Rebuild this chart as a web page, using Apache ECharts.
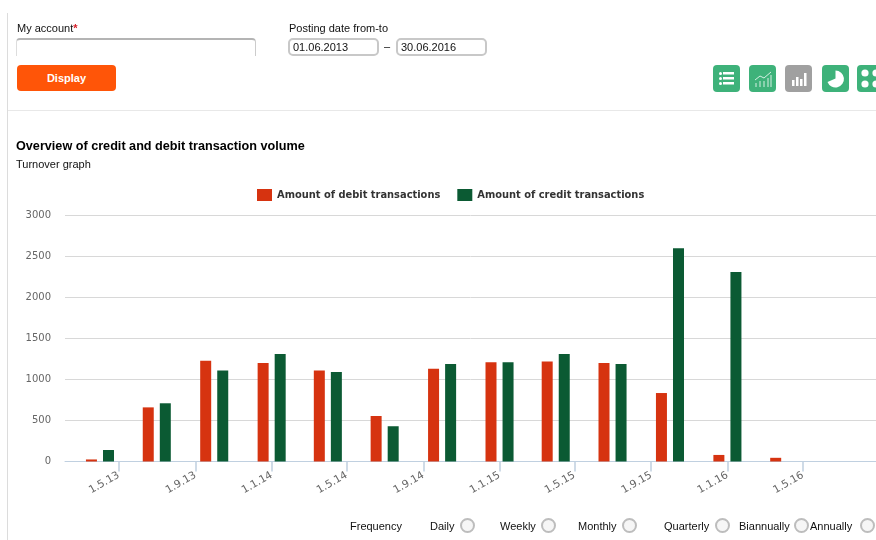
<!DOCTYPE html>
<html>
<head>
<meta charset="utf-8">
<title>Turnover graph</title>
<script src="https://cdn.jsdelivr.net/npm/echarts@6/dist/echarts.min.js"></script>
<style>
  html, body { margin: 0; padding: 0; background: #fff; overflow: hidden; }
  body { width: 876px; height: 540px; position: relative; font-family: "Liberation Sans", Arial, sans-serif; font-size: 11px; color: #111; }
  #chart { position: absolute; left: 0; top: 0; width: 876px; height: 540px; }
  .abs { position: absolute; white-space: nowrap; }
  .rule-v { left: 7px; top: 13px; width: 1px; height: 527px; background: #dcdcdc; }
  .rule-h { left: 8px; top: 110px; width: 868px; height: 1px; background: #e8e8e8; }
  .req { color: #d8202a; font-weight: bold; }
  .account { left: 16px; top: 38px; width: 240px; height: 18px; box-sizing: border-box; border-right: 1px solid #ccc; border-left: 1px solid #ddd; border-top: 2px solid #b4b4b4; border-radius: 4px 4px 0 0; }
  .date { top: 38px; height: 18px; box-sizing: border-box; border: 2px solid #c8c8c8; border-radius: 5px; padding: 0 0 0 3px; font-size: 11px; line-height: 14px; }
  .display { left: 17px; top: 65px; width: 99px; height: 26px; background: #ff5508; border-radius: 4px; color: #fff; font-weight: bold; text-align: center; line-height: 26px; }
  .btn { top: 65px; width: 27px; height: 27px; border-radius: 4px; background: #3eb27a; }
  .btn svg { display: block; }
  .radio { top: 518px; width: 11px; height: 11px; border: 2px solid #bdbdbd; border-radius: 50%; background: #f6f6f6; }
  .clip { position: absolute; left: 857px; top: 65px; width: 19px; height: 27px; overflow: hidden; }
</style>
</head>
<body>
<div id="chart"></div>
<div class="abs rule-v"></div>
<div class="abs rule-h"></div>

<div class="abs" style="left:17px;top:22px">My account<span class="req">*</span></div>
<div class="abs account"></div>
<div class="abs" style="left:289px;top:22px">Posting date from-to</div>
<div class="abs date" style="left:288px;width:91px">01.06.2013</div>
<div class="abs" style="left:384px;top:40px">–</div>
<div class="abs date" style="left:396px;width:91px">30.06.2016</div>
<div class="abs display">Display</div>

<div class="abs btn" style="left:713px"><svg width="27" height="27" fill="#fff"><rect x="6" y="7" width="3" height="3" rx="1.5"/><rect x="6" y="12" width="3" height="3" rx="1.5"/><rect x="6" y="17" width="3" height="3" rx="1.5"/><rect x="10" y="7" width="11" height="2.5"/><rect x="10" y="12" width="11" height="2.5"/><rect x="10" y="17" width="11" height="2.5"/></svg></div>
<div class="abs btn" style="left:749px"><svg width="27" height="27" fill="none" stroke="#d5f0e3"><path d="M6 15l5-4 4 2 7-6"/><path d="M7 22v-4M11 22v-6M15 22v-6M19 22v-9M22 22v-12"/></svg></div>
<div class="abs btn" style="left:785px;background:#a0a0a0"><svg width="27" height="27" fill="#fff"><rect x="7" y="15" width="2.5" height="6"/><rect x="11" y="12" width="2.5" height="9"/><rect x="15" y="14" width="2.5" height="7"/><rect x="19" y="8" width="2.5" height="13"/></svg></div>
<div class="abs btn" style="left:822px"><svg width="27" height="27" fill="#fff"><path d="M13.5 5.5a8.5 8.5 0 1 1-8 11.5l8-3.5z"/></svg></div>
<div class="clip"><div class="abs btn" style="left:0;top:0"><svg width="27" height="27" fill="#fff"><circle cx="8" cy="8" r="3.6"/><circle cx="19" cy="8" r="3.6"/><circle cx="8" cy="19" r="3.6"/><circle cx="19" cy="19" r="3.6"/></svg></div></div>

<div class="abs" style="left:350px;top:520px">Frequency</div>
<div class="abs" style="left:430px;top:520px">Daily</div><div class="abs radio" style="left:460px"></div>
<div class="abs" style="left:500px;top:520px">Weekly</div><div class="abs radio" style="left:541px"></div>
<div class="abs" style="left:578px;top:520px">Monthly</div><div class="abs radio" style="left:622px"></div>
<div class="abs" style="left:664px;top:520px">Quarterly</div><div class="abs radio" style="left:715px"></div>
<div class="abs" style="left:739px;top:520px">Biannually</div><div class="abs radio" style="left:794px"></div>
<div class="abs" style="left:810px;top:520px">Annually</div><div class="abs radio" style="left:860px"></div>

<script>
  var periods = ['2013-04-01','2013-07-01','2013-10-01','2014-01-01','2014-04-01','2014-07-01','2014-10-01','2015-01-01','2015-04-01','2015-07-01','2015-10-01','2016-01-01','2016-04-01'];
  var debit = [25, 660, 1230, 1200, 1110, 555, 1130, 1210, 1220, 1200, 835, 80, 45];
  var credit = [140, 710, 1110, 1310, 1090, 430, 1190, 1210, 1310, 1190, 2600, 2310, null];
  var tickDates = ['2013-05-01','2013-09-01','2014-01-01','2014-05-01','2014-09-01','2015-01-01','2015-05-01','2015-09-01','2016-01-01','2016-05-01'];

  function pairs(values){
    return periods.map(function(d, i){ return [Date.parse(d), values[i]]; });
  }
  //日期标签 1.5.13
  function shortDate(ms){
    var d = new Date(ms);
    return d.getUTCDate() + '.' + (d.getUTCMonth() + 1) + '.' + String(d.getUTCFullYear()).slice(2);
  }
  var tickValues = tickDates.map(function(d){ return Date.parse(d); });

  var myChart = echarts.init(document.getElementById('chart'));
  var option = {
    animation: false,
    textStyle: {fontFamily: 'DejaVu Sans'},
    title: {
      left: 16,
      top: 140,
      padding: 0,
      itemGap: 6,
      text: 'Overview of credit and debit transaction volume',
      textStyle: {fontFamily: 'Liberation Sans', fontSize: 12.65, fontWeight: 'bold', color: '#000'},
      subtext: 'Turnover graph',
      subtextStyle: {fontFamily: 'Liberation Sans', fontSize: 11, color: '#111'}
    },
    legend: {
      top: 184,
      left: 252,
      itemWidth: 15,
      itemHeight: 12,
      itemGap: 17,
      icon: 'rect',
      textStyle: {fontFamily: 'DejaVu Sans', fontSize: 9.9, fontWeight: 'bold', color: '#333'},
      data: ['Amount of debit transactions', 'Amount of credit transactions']
    },
    grid: {left: 65, right: 0, top: 215.5, height: 246},
    xAxis: {
      type: 'value',
      min: Date.parse('2013-02-04'),
      max: Date.parse('2016-08-26'),
      splitLine: {show: false},
      axisLine: {lineStyle: {color: '#c0d0e0'}},
      axisTick: {show: true, customValues: tickValues, length: 10, lineStyle: {color: '#c0d0e0', width: 1.5}},
      axisLabel: {
        customValues: tickValues,
        rotate: 30,
        margin: 13,
        fontSize: 10.5,
        color: '#666',
        formatter: function(v){ return shortDate(v); }
      }
    },
    yAxis: {
      type: 'value',
      min: 0,
      max: 3000,
      interval: 500,
      axisLine: {show: false},
      axisTick: {show: false},
      splitLine: {lineStyle: {color: '#d8d8d8'}},
      axisLabel: {margin: 14, fontSize: 10, color: '#666', formatter: function(v){ return String(v); }}
    },
    series: [
      {name: 'Amount of debit transactions', type: 'bar', barWidth: 11, barGap: '55%', itemStyle: {color: '#d63310'}, data: pairs(debit)},
      {name: 'Amount of credit transactions', type: 'bar', barWidth: 11, barGap: '55%', itemStyle: {color: '#0b5a33'}, data: pairs(credit)}
    ]
  };
  myChart.setOption(option);
</script>
</body>
</html>
